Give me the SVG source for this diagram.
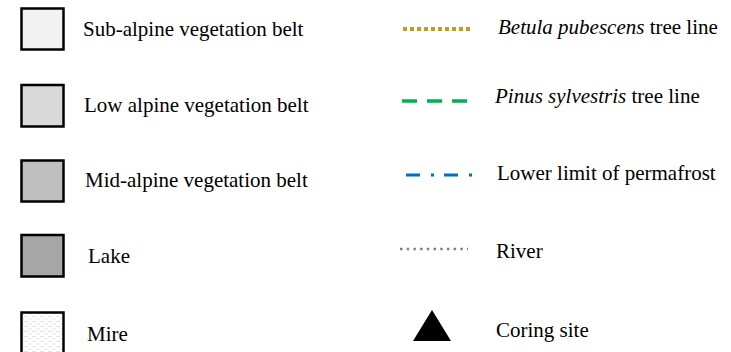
<svg xmlns="http://www.w3.org/2000/svg" width="731" height="352" viewBox="0 0 731 352">
<style>
.box{stroke:#000;stroke-width:2.5}
.t{font-family:"Liberation Serif","Times New Roman",serif;font-size:21px;fill:#000}
.i{font-style:italic}
</style>
<defs>
<pattern id="mire" width="8" height="5" patternUnits="userSpaceOnUse">
<rect width="8" height="5" fill="#fff"/>
<line x1="0" y1="1.5" x2="4" y2="1.5" stroke="#e3e3e3" stroke-width="1"/>
<line x1="4" y1="4" x2="8" y2="4" stroke="#e8e8e8" stroke-width="1"/>
</pattern>
</defs>
<rect width="731" height="352" fill="#fff"/>
<g id="subalpine"><rect class="box" x="21.5" y="8.5" width="42" height="41" fill="#F2F2F2"/><text class="t" x="83" y="36">Sub-alpine vegetation belt</text></g>
<g id="lowalpine"><rect class="box" x="21.5" y="85" width="42" height="41.5" fill="#D9D9D9"/><text class="t" x="84" y="112">Low alpine vegetation belt</text></g>
<g id="midalpine"><rect class="box" x="21.5" y="160.5" width="42" height="41" fill="#BFBFBF"/><text class="t" x="85" y="187">Mid-alpine vegetation belt</text></g>
<g id="lake"><rect class="box" x="21.5" y="235" width="42" height="41.5" fill="#A6A6A6"/><text class="t" x="88" y="263">Lake</text></g>
<g id="mire-item"><rect class="box" x="21.5" y="312.5" width="42" height="42" fill="url(#mire)"/><text class="t" x="87" y="341">Mire</text></g>
<g id="lines">
<line x1="403" y1="29" x2="471" y2="29" stroke="#C39B1E" stroke-width="4" stroke-dasharray="4 3"/>
<line x1="402" y1="101" x2="467" y2="101" stroke="#00B050" stroke-width="3.5" stroke-dasharray="15 10"/>
<line x1="406" y1="175" x2="472" y2="175" stroke="#0070C0" stroke-width="3" stroke-dasharray="14 11 3 10"/>
<line x1="400" y1="249" x2="468" y2="249" stroke="#808080" stroke-width="2.5" stroke-dasharray="2.5 4.2"/>
</g>
<g id="betula"><text class="t" x="498" y="34"><tspan class="i">Betula pubescens</tspan> tree line</text></g>
<g id="pinus"><text class="t" x="495" y="103"><tspan class="i">Pinus sylvestris</tspan> tree line</text></g>
<g id="permafrost"><text class="t" x="497" y="180">Lower limit of permafrost</text></g>
<g id="river"><text class="t" x="496" y="258">River</text></g>
<g id="coring"><polygon points="432,310 413,341 451,341" fill="#000"/><text class="t" x="496" y="337">Coring site</text></g>
</svg>
